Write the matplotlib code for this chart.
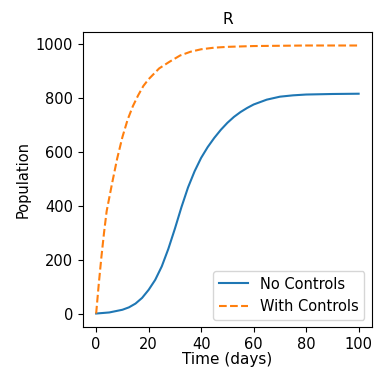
import matplotlib.pyplot as plt

# values
dias_sin = [0, 5, 10, 12.5, 15, 17.5, 20, 22.5, 25, 27.5, 30, 32.5, 35, 37.5,
            40, 42.5, 45, 47.5, 50, 52.5, 55, 57.5, 60, 65, 70, 75, 80, 90, 100]
r_sin = [0, 4, 14, 23, 37, 58, 88, 125, 175, 240, 315, 395, 468, 528,
         578, 618, 652, 682, 708, 730, 748, 763, 776, 794, 805, 810, 813, 815, 816]

dias_con = [0, 1, 2, 3, 4, 6, 8, 10, 12, 14, 16, 18, 20, 24, 28, 32, 36, 40,
            45, 50, 60, 70, 80, 90, 100]
r_con = [0, 110, 210, 300, 380, 480, 575, 655, 720, 770, 810, 845, 870, 910,
         935, 958, 972, 981, 987, 990, 993, 994, 995, 995, 995]

plt.rcParams['font.size'] = 10.5

fig = plt.figure(figsize=(3.74, 3.69), dpi=100)
ax = fig.add_axes([0.222, 0.114, 0.772, 0.799])

ax.plot(dias_sin, r_sin, label='No Controls')
ax.plot(dias_con, r_con, '--', label='With Controls')
ax.set_title('R', fontsize=11)
ax.set_xlabel('Time (days)', fontsize=11, labelpad=0)
ax.set_ylabel('Population', fontsize=10.5)
ax.set_xticks([0, 20, 40, 60, 80, 100])
ax.set_yticks([0, 200, 400, 600, 800, 1000])
ax.legend(loc='lower right', fontsize=10.5)

fig.savefig('out.png', dpi=100)
